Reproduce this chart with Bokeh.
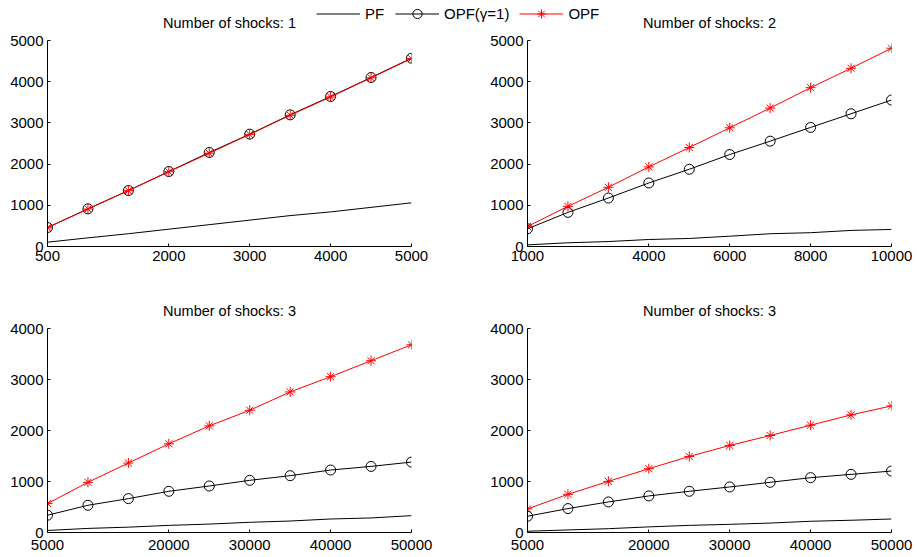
from bokeh.plotting import figure
from bokeh.models import Range1d, FixedTicker, NumeralTickFormatter, Legend, LegendItem
from bokeh.layouts import column, row
from bokeh.embed import file_html
from bokeh.resources import INLINE

FONT = "Liberation Sans"

# ---------------- data ----------------
x_p1 = [500, 1000, 1500, 2000, 2500, 3000, 3500, 4000, 4500, 5000]
pf_p1 = [105, 210, 310, 420, 530, 640, 750, 840, 950, 1060]
opfg_p1 = [461, 914, 1359, 1820, 2282, 2727, 3196, 3641, 4102, 4571]
opf_p1 = [455, 910, 1355, 1815, 2265, 2720, 3185, 3630, 4095, 4560]

x_p2 = [1000, 2000, 3000, 4000, 5000, 6000, 7000, 8000, 9000, 10000]
pf_p2 = [40, 90, 120, 170, 195, 250, 310, 335, 390, 414]
opfg_p2 = [430, 828, 1177, 1542, 1875, 2232, 2557, 2890, 3222, 3555]
opf_p2 = [487, 974, 1437, 1932, 2403, 2881, 3360, 3855, 4326, 4813]

x_p3 = [5000, 10000, 15000, 20000, 25000, 30000, 35000, 40000, 45000, 50000]
pf_p3 = [40, 80, 105, 140, 165, 200, 225, 265, 285, 330]
opfg_p3 = [339, 534, 664, 808, 912, 1023, 1114, 1225, 1296, 1381]
opf_p3 = [567, 984, 1362, 1739, 2091, 2397, 2756, 3055, 3368, 3681]

x_p4 = [5000, 10000, 15000, 20000, 25000, 30000, 35000, 40000, 45000, 50000]
pf_p4 = [25, 50, 75, 110, 140, 160, 185, 220, 240, 265]
opfg_p4 = [319, 469, 599, 717, 808, 893, 984, 1075, 1140, 1205]
opf_p4 = [463, 749, 1003, 1251, 1492, 1707, 1902, 2104, 2306, 2482]

titles = ["Number of shocks: 1", "Number of shocks: 2",
          "Number of shocks: 3", "Number of shocks: 3"]
xticks_p1 = [500, 2000, 3000, 4000, 5000]
xticks_p2 = [1000, 4000, 6000, 8000, 10000]
xticks_p3 = [5000, 20000, 30000, 40000, 50000]
xticks_p4 = [5000, 20000, 30000, 40000, 50000]
yticks_top = [0, 1000, 2000, 3000, 4000, 5000]
yticks_bottom = [0, 1000, 2000, 3000, 4000]
legend_labels = ["PF", "OPF(\u03b3=1)", "OPF"]


def style_axes(p, xticks, yticks, xstandoff):
    p.xgrid.visible = False
    p.ygrid.visible = False
    p.outline_line_color = None
    p.xaxis.ticker = FixedTicker(ticks=xticks)
    p.yaxis.ticker = FixedTicker(ticks=yticks)
    for ax in (p.xaxis[0], p.yaxis[0]):
        ax.formatter = NumeralTickFormatter(format="0")
        ax.axis_line_color = "black"
        ax.axis_line_width = 1
        ax.major_tick_line_color = "black"
        ax.major_tick_in = 3
        ax.major_tick_out = 0
        ax.minor_tick_line_color = None
        ax.major_label_text_font = FONT
        ax.major_label_text_font_size = "15px"
        ax.major_label_text_color = "black"
    p.xaxis.major_label_standoff = xstandoff
    p.yaxis.major_label_standoff = 4


def panel(x, pf, og, op, title, xticks, yticks, ymax, w, h, bl, br, bt, bb, xso):
    p = figure(width=w, height=h, output_backend="svg", toolbar_location=None,
               x_range=Range1d(x[0], x[-1]), y_range=Range1d(0, ymax),
               min_border_left=bl, min_border_right=br,
               min_border_top=bt, min_border_bottom=bb,
               title=title)
    p.border_fill_color = None
    p.background_fill_color = None
    p.title.text_font = FONT
    p.title.text_font_size = "14.5px"
    p.title.text_font_style = "normal"
    p.title.text_color = "black"
    p.title.align = "center"
    p.title.standoff = 20
    style_axes(p, xticks, yticks, xso)
    p.line(x, pf, line_color="black", line_width=1)
    p.line(x, og, line_color="black", line_width=1)
    p.scatter(x, og, marker="circle", size=10, fill_color=None,
              line_color="black", line_width=1)
    p.line(x, op, line_color="red", line_width=1)
    p.scatter(x, op, marker="asterisk", size=10, line_color="red", line_width=1)
    return p


f1 = panel(x_p1, pf_p1, opfg_p1, opf_p1, titles[0], xticks_p1, yticks_top, 5000,
           469, 280, 47, 58, 40, 34, 4)
f2 = panel(x_p2, pf_p2, opfg_p2, opf_p2, titles[1], xticks_p2, yticks_top, 5000,
           448, 280, 58, 26, 40, 34, 4)
f3 = panel(x_p3, pf_p3, opfg_p3, opf_p3, titles[2], xticks_p3, yticks_bottom, 4000,
           469, 277, 47, 58, 48, 25, 7)
f4 = panel(x_p4, pf_p4, opfg_p4, opf_p4, titles[3], xticks_p4, yticks_bottom, 4000,
           448, 277, 58, 26, 48, 25, 7)

# ---------------- legend strip ----------------
lg = figure(width=917, height=28, output_backend="svg", toolbar_location=None,
            x_range=Range1d(0, 1), y_range=Range1d(0, 1),
            x_axis_type=None, y_axis_type=None,
            min_border=0, min_border_left=0, min_border_right=0,
            min_border_top=0, min_border_bottom=0)
lg.xgrid.visible = False
lg.ygrid.visible = False
lg.outline_line_color = None
lg.border_fill_color = None
lg.background_fill_color = None
r_pf = lg.line(x_p1, pf_p1, line_color="black", line_width=1)
r_ogl = lg.line(x_p1, opfg_p1, line_color="black", line_width=1)
r_ogs = lg.scatter(x_p1, opfg_p1, marker="circle", size=10, fill_color=None,
                   line_color="black", line_width=1)
r_opl = lg.line(x_p1, opf_p1, line_color="red", line_width=1)
r_ops = lg.scatter(x_p1, opf_p1, marker="asterisk", size=10, line_color="red",
                   line_width=1)
legend = Legend(items=[
    LegendItem(label=legend_labels[0], renderers=[r_pf]),
    LegendItem(label=legend_labels[1], renderers=[r_ogl, r_ogs]),
    LegendItem(label=legend_labels[2], renderers=[r_opl, r_ops]),
], orientation="horizontal", location=(316, 3), glyph_width=44, glyph_height=23,
    label_standoff=5, spacing=10, padding=0, margin=0,
    border_line_color=None, background_fill_alpha=0,
    label_text_font=FONT, label_text_font_size="15px", label_text_color="black")
lg.add_layout(legend)
lg.margin = (0, 0, -28, 0)

grid = column(row(f1, f2), row(f3, f4))
layout = column(lg, grid)

open("out.html", "w").write(file_html(layout, INLINE))
